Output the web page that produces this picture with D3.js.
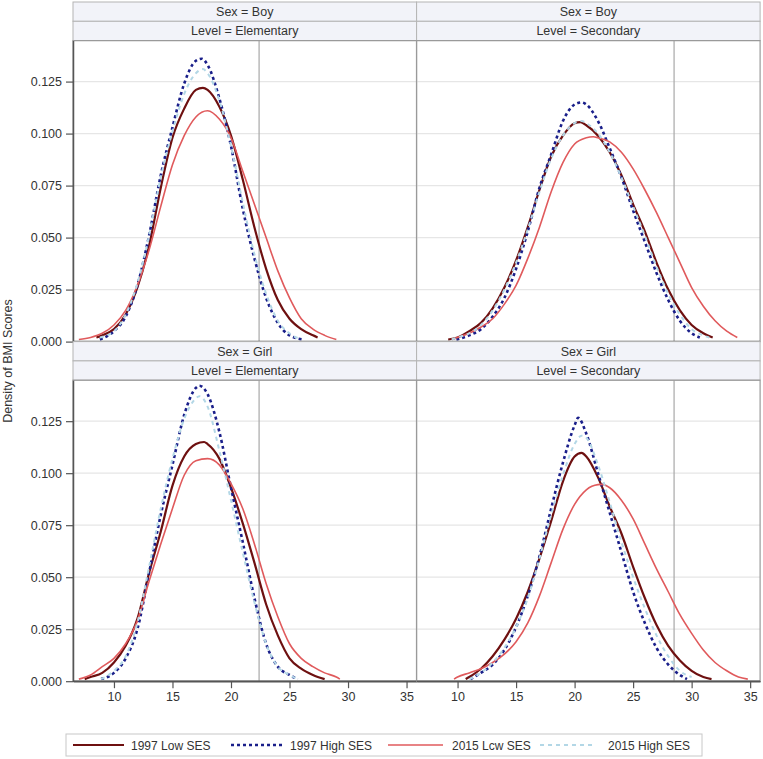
<!DOCTYPE html>
<html>
<head>
<meta charset="utf-8">
<script src="https://cdn.jsdelivr.net/npm/d3@7"></script>
<style>
  html, body { margin: 0; padding: 0; background: #fff; }
  svg { display: block; font-family: "Liberation Sans", Arial, sans-serif; }
</style>
</head>
<body>
<svg id="chart" width="763" height="759"></svg>
<script>
// ---------- data ----------
const sexes = ["Boy", "Girl"];
const levels = ["Elementary", "Secondary"];
const seriesNames = ["1997 Low SES", "1997 High SES", "2015 Lcw SES", "2015 High SES"];
const xTicks = [10, 15, 20, 25, 30, 35];
const yTicks = [0, 0.025, 0.05, 0.075, 0.1, 0.125];
const refLines = [22.4, 28.5]; // per level: Elementary, Secondary

// Boy / Elementary
const boyElem1997Low = [[8.5,0.002],[9,0.003],[10,0.006],[11,0.013],[12,0.026],[13,0.046],[14,0.074],[15,0.098],[16,0.112],[17,0.121],[17.6,0.122],[18,0.121],[19,0.113],[20,0.099],[21,0.078],[22,0.055],[23,0.035],[24,0.020],[25,0.011],[26,0.006],[27,0.003],[27.4,0.002]];
const boyElem1997High = [[8.8,0.001],[10,0.005],[11,0.012],[12,0.027],[13,0.051],[14,0.080],[15,0.103],[16,0.124],[17,0.135],[17.5,0.136],[18,0.133],[19,0.117],[20,0.094],[21,0.064],[22,0.040],[23,0.021],[24,0.009],[25,0.003],[26.2,0.001]];
const boyElem2015Low = [[7.0,0.001],[8,0.002],[9,0.004],[10,0.008],[11,0.015],[12,0.027],[13,0.044],[14,0.065],[15,0.085],[16,0.099],[17,0.108],[18,0.111],[19,0.107],[20,0.098],[21,0.082],[22,0.066],[23,0.050],[24,0.034],[25,0.021],[26,0.011],[27,0.006],[28,0.003],[29,0.001]];
const boyElem2015High = [[8.8,0.002],[10,0.005],[11,0.013],[12,0.028],[13,0.051],[14,0.079],[15,0.101],[16,0.119],[17,0.129],[17.6,0.131],[18,0.129],[19,0.116],[20,0.094],[21,0.067],[22,0.042],[23,0.023],[24,0.010],[25,0.004],[26,0.001]];

// Boy / Secondary
const boySec1997Low = [[9.2,0.001],[10,0.002],[11,0.005],[12,0.009],[13,0.016],[14,0.026],[15,0.039],[16,0.055],[17,0.073],[18,0.089],[19,0.099],[20,0.105],[20.5,0.1055],[21,0.104],[22,0.099],[23,0.091],[24,0.080],[25,0.066],[26,0.053],[27,0.038],[28,0.025],[29,0.015],[30,0.008],[31,0.004],[31.8,0.002]];
const boySec1997High = [[9.9,0.001],[11,0.003],[12,0.006],[13,0.012],[14,0.021],[15,0.035],[16,0.053],[17,0.074],[18,0.090],[19,0.106],[20,0.114],[20.6,0.115],[21,0.114],[22,0.106],[23,0.093],[24,0.079],[25,0.063],[26,0.048],[27,0.033],[28,0.020],[29,0.010],[30,0.004],[30.7,0.002]];
const boySec2015Low = [[9.5,0.001],[10,0.002],[11,0.004],[12,0.007],[13,0.011],[14,0.018],[15,0.027],[16,0.040],[17,0.055],[18,0.072],[19,0.086],[20,0.095],[21,0.098],[21.6,0.0985],[22,0.098],[23,0.096],[24,0.091],[25,0.083],[26,0.073],[27,0.062],[28,0.050],[29,0.038],[30,0.026],[31,0.017],[32,0.010],[33,0.005],[33.9,0.002]];
const boySec2015High = [[9.5,0.001],[10,0.002],[11,0.004],[12,0.008],[13,0.015],[14,0.025],[15,0.038],[16,0.054],[17,0.072],[18,0.088],[19,0.099],[20,0.105],[20.6,0.106],[21,0.105],[22,0.100],[23,0.091],[24,0.079],[25,0.065],[26,0.051],[27,0.036],[28,0.023],[29,0.013],[30,0.006],[31,0.003],[31.5,0.002]];

// Girl / Elementary
const girlElem1997Low = [[7.5,0.001],[8,0.002],[9,0.004],[10,0.009],[11,0.017],[12,0.030],[13,0.052],[14,0.072],[15,0.094],[16,0.108],[17,0.114],[17.7,0.115],[18,0.114],[19,0.107],[20,0.093],[21,0.076],[22,0.057],[23,0.037],[24,0.022],[25,0.011],[26,0.006],[27,0.003],[28,0.001]];
const girlElem1997High = [[8.9,0.001],[10,0.004],[11,0.011],[12,0.025],[13,0.052],[14,0.080],[15,0.104],[16,0.128],[17,0.141],[17.3,0.142],[18,0.138],[19,0.120],[20,0.093],[21,0.067],[22,0.040],[23,0.018],[24,0.007],[25,0.003],[25.7,0.001]];
const girlElem2015Low = [[7,0.001],[8,0.003],[9,0.007],[10,0.011],[11,0.018],[12,0.029],[13,0.048],[14,0.066],[15,0.083],[16,0.099],[17,0.106],[18,0.107],[19,0.104],[20,0.095],[21,0.083],[22,0.066],[23,0.047],[24,0.031],[25,0.018],[26,0.011],[27,0.007],[28,0.004],[29,0.002],[29.3,0.001]];
const girlElem2015High = [[8.9,0.001],[10,0.005],[11,0.012],[12,0.028],[13,0.055],[14,0.083],[15,0.107],[16,0.126],[17,0.136],[17.3,0.137],[18,0.132],[19,0.111],[20,0.087],[21,0.062],[22,0.038],[23,0.018],[24,0.007],[25,0.003],[25.7,0.001]];

// Girl / Secondary
const girlSec1997Low = [[10.7,0.001],[11,0.002],[12,0.006],[13,0.012],[14,0.020],[15,0.030],[16,0.043],[17,0.059],[18,0.077],[19,0.096],[20,0.108],[20.6,0.1098],[21,0.108],[22,0.098],[23,0.084],[24,0.071],[25,0.055],[26,0.040],[27,0.027],[28,0.017],[29,0.010],[30,0.005],[31,0.002],[31.7,0.001]];
const girlSec1997High = [[11.1,0.001],[12,0.004],[13,0.008],[14,0.015],[15,0.026],[16,0.041],[17,0.060],[18,0.083],[19,0.105],[20,0.123],[20.3,0.1266],[21,0.119],[22,0.100],[23,0.081],[24,0.062],[25,0.043],[26,0.028],[27,0.016],[28,0.008],[29,0.003],[29.6,0.001]];
const girlSec2015Low = [[9.7,0.001],[10,0.002],[11,0.004],[12,0.006],[13,0.009],[14,0.013],[15,0.019],[16,0.028],[17,0.041],[18,0.057],[19,0.073],[20,0.085],[21,0.092],[22,0.0945],[22.3,0.0946],[23,0.093],[24,0.087],[25,0.078],[26,0.066],[27,0.054],[28,0.043],[29,0.032],[30,0.023],[31,0.015],[32,0.009],[33,0.005],[34,0.002],[34.8,0.001]];
const girlSec2015High = [[11,0.001],[12,0.004],[13,0.009],[14,0.016],[15,0.026],[16,0.040],[17,0.059],[18,0.080],[19,0.099],[20,0.114],[20.6,0.118],[21,0.117],[22,0.104],[23,0.086],[24,0.067],[25,0.050],[26,0.035],[27,0.022],[28,0.012],[29,0.005],[30,0.002]];

const panelData = {
  "Boy|Elementary": [boyElem1997Low, boyElem1997High, boyElem2015Low, boyElem2015High],
  "Boy|Secondary": [boySec1997Low, boySec1997High, boySec2015Low, boySec2015High],
  "Girl|Elementary": [girlElem1997Low, girlElem1997High, girlElem2015Low, girlElem2015High],
  "Girl|Secondary": [girlSec1997Low, girlSec1997High, girlSec2015Low, girlSec2015High]
};

// ---------- styles ----------
const seriesStyle = [
  { color: "#6e1010", width: 2.2, dash: null },
  { color: "#1a1f8a", width: 2.6, dash: "3,3" },
  { color: "#e05a5c", width: 1.6, dash: null },
  { color: "#b3d7e6", width: 2.0, dash: "4,4" }
];

const svg = d3.select("#chart");
const panelW = 343.5;
const plotH = 301;
const headerH = 19.3;
const colX = [73, 416.6];
const rowTop = [2, 341.6];   // top of header block per row
const FS = 12.5;

const x = d3.scaleLinear().domain([6.5, 35.85]).range([0, panelW]);
const y = d3.scaleLinear().domain([0, 0.1447]).range([plotH, 0]);

const line = d3.line().x(d => x(d[0])).y(d => y(d[1])).curve(d3.curveMonotoneX);

sexes.forEach((sex, r) => {
  levels.forEach((lev, c) => {
    const gx = colX[c];
    const top = rowTop[r];
    const g = svg.append("g").attr("transform", `translate(${gx},${top})`);

    // header cells
    const labels = [`Sex = ${sex}`, `Level = ${lev}`];
    labels.forEach((t, i) => {
      g.append("rect").attr("x", 0).attr("y", i * headerH).attr("width", panelW).attr("height", headerH)
        .attr("fill", "#f2f3f9").attr("stroke", "#b4b4b4").attr("stroke-width", 1);
      g.append("text").attr("x", panelW / 2).attr("y", i * headerH + headerH / 2 + 4.5)
        .attr("text-anchor", "middle").attr("font-size", FS).attr("fill", "#333").text(t);
    });

    const pg = g.append("g").attr("transform", `translate(0,${2 * headerH})`);
    // gridlines
    pg.selectAll("line.grid").data(yTicks).join("line")
      .attr("x1", 0).attr("x2", panelW)
      .attr("y1", d => y(d)).attr("y2", d => y(d))
      .attr("stroke", "#e6e6e6").attr("stroke-width", 1.2);

    // reference line
    pg.append("line").attr("x1", x(refLines[c])).attr("x2", x(refLines[c]))
      .attr("y1", 0).attr("y2", plotH).attr("stroke", "#a8a8a8").attr("stroke-width", 1.2);

    // curves
    panelData[`${sex}|${lev}`].forEach((arr, i) => {
      const s = seriesStyle[i];
      pg.append("path").datum(arr).attr("d", line).attr("fill", "none")
        .attr("stroke", s.color).attr("stroke-width", s.width)
        .attr("stroke-dasharray", s.dash).attr("stroke-linejoin", "round");
    });

    // frame
    pg.append("rect").attr("x", 0).attr("y", 0).attr("width", panelW).attr("height", plotH)
      .attr("fill", "none").attr("stroke", "#9a9a9a").attr("stroke-width", 1.2);
    // bottom axis line
    pg.append("line").attr("x1", 0).attr("x2", panelW).attr("y1", plotH).attr("y2", plotH)
      .attr("stroke", "#555").attr("stroke-width", 1.5);

    // y axis on left column
    if (c === 0) {
      const ya = pg.append("g").call(d3.axisLeft(y).tickValues(yTicks).tickFormat(d3.format(".3f")).tickSize(7).tickSizeOuter(0));
      ya.select(".domain").attr("stroke", "#555").attr("stroke-width", 1.5);
      ya.selectAll(".tick line").attr("stroke", "#555").attr("stroke-width", 1.2);
      ya.selectAll(".tick text").attr("font-size", FS).attr("fill", "#333").attr("font-family", "Liberation Sans, Arial, sans-serif").attr("x", -11);
    }
    // x axis on bottom row
    if (r === 1) {
      const xa = pg.append("g").attr("transform", `translate(0,${plotH})`)
        .call(d3.axisBottom(x).tickValues(xTicks).tickSize(7).tickSizeOuter(0));
      xa.select(".domain").attr("stroke", "#555").attr("stroke-width", 1.5);
      xa.selectAll(".tick line").attr("stroke", "#555").attr("stroke-width", 1.2);
      xa.selectAll(".tick text").attr("font-size", FS).attr("fill", "#333").attr("font-family", "Liberation Sans, Arial, sans-serif").attr("y", 11);
    }
  });
});

// y axis title
svg.append("text").attr("transform", "translate(12,361) rotate(-90)")
  .attr("text-anchor", "middle").attr("font-size", 12.5).attr("fill", "#333")
  .text("Density of BMI Scores");

// legend
const legX = 66, legY = 734, legW = 636, legH = 22;
svg.append("rect").attr("x", legX).attr("y", legY).attr("width", legW).attr("height", legH)
  .attr("fill", "#fff").attr("stroke", "#c8c8c8").attr("stroke-width", 1);
const legItems = [
  { lx: 73, lw: 51, tx: 131 },
  { lx: 231, lw: 51, tx: 290 },
  { lx: 388, lw: 55, tx: 452 },
  { lx: 540, lw: 54, tx: 608 }
];
seriesNames.forEach((name, i) => {
  const s = seriesStyle[i];
  const it = legItems[i];
  const cy = legY + legH / 2;
  svg.append("line").attr("x1", it.lx).attr("x2", it.lx + it.lw).attr("y1", cy).attr("y2", cy)
    .attr("stroke", s.color).attr("stroke-width", s.width).attr("stroke-dasharray", s.dash);
  svg.append("text").attr("x", it.tx).attr("y", cy + 4.5).attr("font-size", 12).attr("fill", "#333").text(name);
});
</script>
</body>
</html>
